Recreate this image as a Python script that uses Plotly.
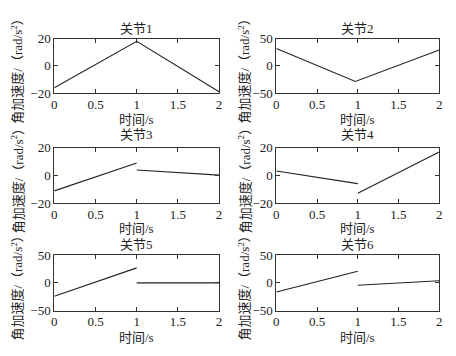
import plotly.graph_objects as go

# Data (time in s, angular acceleration in rad/s^2)
titles = ["关节1", "关节2", "关节3", "关节4", "关节5", "关节6"]
j1_t = [0, 1, 2]
j1_a = [-16, 18, -19]
j2_t = [0, 0.97, 2]
j2_a = [32, -28.5, 29]
j3_t1, j3_a1 = [0, 1], [-11, 9]
j3_t2, j3_a2 = [1, 2], [4, 0.3]
j4_t1, j4_a1 = [0, 1], [3.3, -5.8]
j4_t2, j4_a2 = [1, 2], [-12.7, 17]
j5_t1, j5_a1 = [0, 1], [-24, 27]
j5_t2, j5_a2 = [1, 2], [0, 0]
j6_t1, j6_a1 = [0, 1], [-16.5, 21]
j6_t2, j6_a2 = [1, 2], [-4.3, 3.8]
yranges = [[-20, 20], [-50, 50], [-20, 20], [-20, 20], [-50, 50], [-50, 50]]
ydticks = [20, 50, 20, 20, 50, 50]
xlabel = "时间/s"
ylabel = "角加速度/（rad/s<sup>2</sup>）"

series = [
    [(j1_t, j1_a)],
    [(j2_t, j2_a)],
    [(j3_t1, j3_a1), (j3_t2, j3_a2)],
    [(j4_t1, j4_a1), (j4_t2, j4_a2)],
    [(j5_t1, j5_a1), (j5_t2, j5_a2)],
    [(j6_t1, j6_a1), (j6_t2, j6_a2)],
]

W, H = 456, 356
xdom_px = [(52, 219), (277, 442)]
ydom_px = [(33, 90), (147, 205), (259, 317)]
title_y = [22, 133, 248]
xtitle_y = [117, 231, 345]
ytitle_x = [14, 244]

fig = go.Figure()
serif = "Times New Roman"
mixed = "Times New Roman, Noto Sans CJK SC"
ink = "#222"
annotations = []
for i in range(6):
    r, c = divmod(i, 2)
    ax = "" if i == 0 else str(i + 1)
    xd = [xdom_px[c][0] / W, xdom_px[c][1] / W]
    yd = [1 - ydom_px[r][1] / H, 1 - ydom_px[r][0] / H]
    for (t, a) in series[i]:
        fig.add_trace(go.Scatter(x=t, y=a, mode="lines", line=dict(color=ink, width=1.1),
                                 xaxis="x" + ax, yaxis="y" + ax, showlegend=False, hoverinfo="skip"))
    common = dict(showgrid=False, zeroline=False, showline=True, linecolor="#333", linewidth=1,
                  mirror="ticks", ticks="inside", ticklen=4, tickcolor="#333",
                  tickfont=dict(family=serif, size=13, color=ink))
    fig.layout["xaxis" + ax] = dict(domain=xd, range=[0, 2], dtick=0.5, anchor="y" + ax,
                                    ticklabelstandoff=-1, **common)
    fig.layout["yaxis" + ax] = dict(domain=yd, range=yranges[i], dtick=ydticks[i], anchor="x" + ax, **common)
    xc = (xd[0] + xd[1]) / 2
    annotations.append(dict(text=titles[i], x=xc, y=1 - title_y[r] / H, xref="paper", yref="paper",
                            xanchor="center", yanchor="middle", showarrow=False,
                            font=dict(family=mixed, size=13, color=ink)))
    annotations.append(dict(text=xlabel, x=xc, y=1 - xtitle_y[r] / H, xref="paper", yref="paper",
                            xanchor="center", yanchor="middle", showarrow=False,
                            font=dict(family=mixed, size=13, color=ink)))
    annotations.append(dict(text=ylabel, x=ytitle_x[c] / W, y=(yd[0] + yd[1]) / 2 - 2 / H, xref="paper", yref="paper",
                            xanchor="center", yanchor="middle", textangle=-90, showarrow=False,
                            font=dict(family=mixed, size=13, color=ink)))

fig.update_layout(width=W, height=H, margin=dict(l=0, r=0, t=0, b=0),
                  plot_bgcolor="white", paper_bgcolor="white", annotations=annotations)
fig.write_html("out.html", config={"displayModeBar": False},
               post_script="document.body.style.margin='0';")
